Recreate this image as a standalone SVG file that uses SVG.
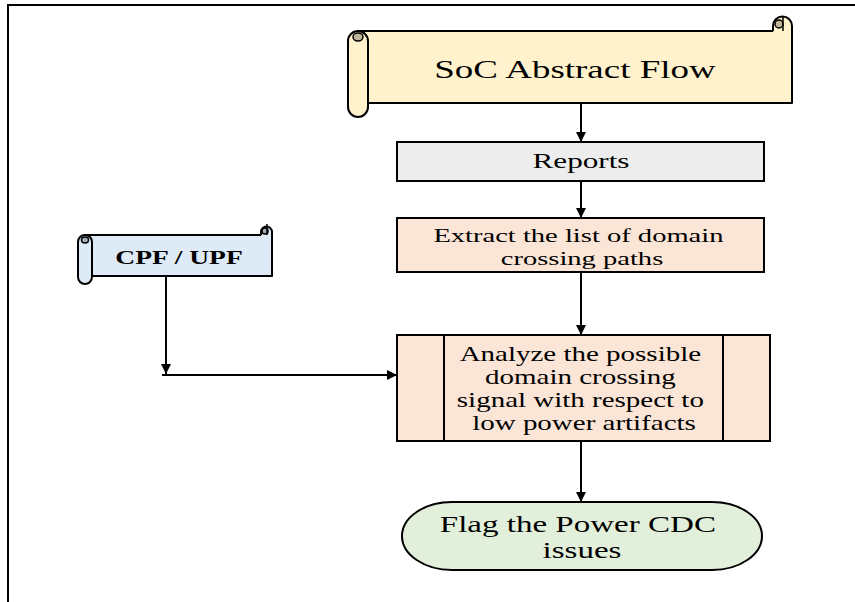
<svg xmlns="http://www.w3.org/2000/svg" width="855" height="602" viewBox="0 0 855 602">
  <defs>
    <marker id="arrow" viewBox="0 0 10 10" refX="10" refY="5" markerWidth="5" markerHeight="5" markerUnits="strokeWidth" orient="auto">
      <path d="M0,0 L10,5 L0,10 Z" fill="#000"/>
    </marker>
    <style>
      .frame { fill: none; stroke: #000; stroke-width: 2; }
      .box { stroke: #000; stroke-width: 2; }
      .scroll-y { fill: #FFF2CC; stroke: #000; stroke-width: 2; stroke-linejoin: round; }
      .curl-y { fill: #BFB599; stroke: #000; stroke-width: 1.5; }
      .scroll-b { fill: #DEEBF7; stroke: #000; stroke-width: 2; stroke-linejoin: round; }
      .curl-b { fill: #A6B0B9; stroke: #000; stroke-width: 1.5; }
      .grey { fill: #EDEDED; }
      .peach { fill: #FBE5D6; }
      .green { fill: #E2EFDA; }
      .lbl { font-family: "Liberation Serif", "Times New Roman", serif; fill: #000; text-anchor: middle; }
      .conn { fill: none; stroke: #000; stroke-width: 2; marker-end: url(#arrow); }
    </style>
  </defs>

  <!-- page frame -->
  <path class="frame" d="M8,602 V5 H855"/>

  <!-- SoC Abstract Flow (horizontal scroll) -->
  <g id="soc-flow">
    <rect class="scroll-y" x="358" y="31" width="434" height="72"/>
    <path class="scroll-y" d="M773,31 V26 A9.5,9.5 0 0 1 792,26 V103"/>
    <circle class="curl-y" cx="779" cy="24" r="4"/>
    <path d="M783,17 V31" stroke="#000" stroke-width="1.5"/>
    <path class="scroll-y" d="M348,41 A10,10 0 0 1 368,41 V107 A10,10 0 0 1 348,107 Z"/>
    <ellipse class="curl-y" cx="358" cy="37" rx="5" ry="4"/>
    <text class="lbl" font-size="25.5" transform="translate(575,78) scale(1.45,1)">SoC Abstract Flow</text>
  </g>

  <!-- Reports -->
  <g id="reports">
    <rect class="box grey" x="397" y="142" width="367" height="39"/>
    <text class="lbl" font-size="21.5" transform="translate(581,168) scale(1.45,1)">Reports</text>
  </g>

  <!-- Extract -->
  <g id="extract">
    <rect class="box peach" x="397" y="218" width="367" height="54"/>
    <text class="lbl" font-size="19.7" transform="translate(582,242) scale(1.45,1)">
      <tspan x="0" y="0">Extract the list of domain</tspan>
      <tspan x="0" y="23">crossing paths</tspan>
    </text>
  </g>

  <!-- CPF / UPF (horizontal scroll) -->
  <g id="cpf-upf">
    <rect class="scroll-b" x="85" y="235" width="187" height="41"/>
    <path class="scroll-b" d="M261,235 V232 A5.5,5.5 0 0 1 272,232 V276"/>
    <circle class="curl-b" cx="265" cy="231" r="3"/>
    <path d="M267,224 V235" stroke="#000" stroke-width="1.5"/>
    <path class="scroll-b" d="M78,242 A7,7 0 0 1 92,242 V277 A7,7 0 0 1 78,277 Z"/>
    <ellipse class="curl-b" cx="85" cy="240" rx="3.5" ry="3"/>
    <text class="lbl" font-size="19" font-weight="bold" transform="translate(179,264) scale(1.45,1)">CPF / UPF</text>
  </g>

  <!-- Analyze (predefined process) -->
  <g id="analyze">
    <rect class="box peach" x="397" y="335" width="373" height="106"/>
    <path d="M444,335 V441 M723,335 V441" stroke="#000" stroke-width="2"/>
    <text class="lbl" font-size="20" transform="translate(584,361) scale(1.45,1)">
      <tspan x="0" y="0">Analyze the possible</tspan>
      <tspan x="0" y="23">domain crossing</tspan>
      <tspan x="0" y="46">signal with respect to</tspan>
      <tspan x="0" y="69">low power artifacts</tspan>
    </text>
  </g>

  <!-- Flag (terminator) -->
  <g id="flag">
    <rect class="box green" x="402" y="502" width="360" height="68" rx="50" ry="34"/>
    <text class="lbl" font-size="22.8" transform="translate(582,532) scale(1.45,1)">
      <tspan x="0" y="0">Flag the Power CDC</tspan>
      <tspan x="0" y="26">issues</tspan>
    </text>
  </g>

  <!-- connectors -->
  <g id="connectors">
    <path class="conn" d="M581,103 V142"/>
    <path class="conn" d="M581,181 V218"/>
    <path class="conn" d="M581,272 V335"/>
    <path class="conn" d="M581,441 V502"/>
    <path class="conn" d="M166,276 V374"/>
    <path class="conn" d="M162,375 H397"/>
  </g>
</svg>
